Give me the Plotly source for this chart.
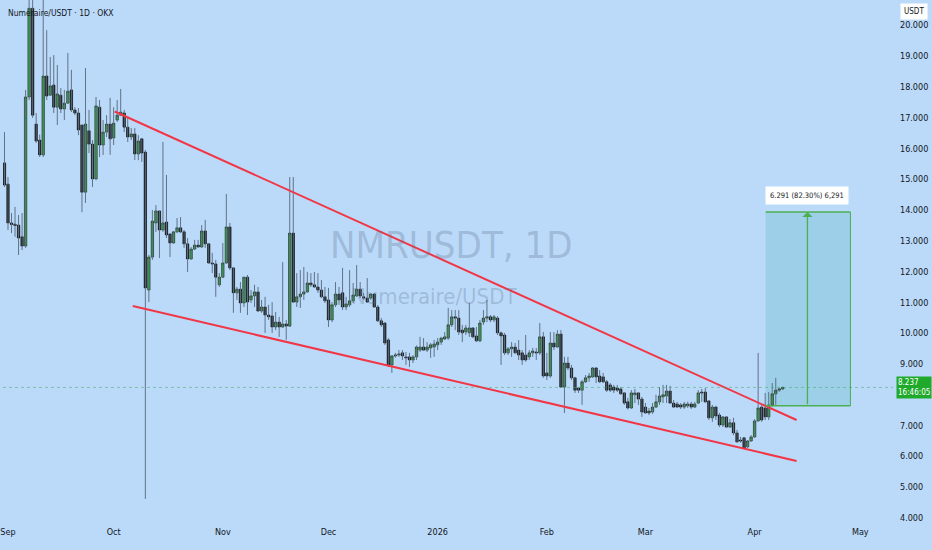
import pandas as pd
import numpy as np
import plotly.graph_objects as go

# ---------------- data (NMR/USDT daily) ----------------
start_date = "2025-08-31"

opens = [15.53, 14.84, 13.58, 13.54, 13.51, 13.13, 12.83, 17.67, 20.55, 16.79,
         16.27, 15.79, 18.35, 17.73, 18.06, 17.34, 17.73, 17.28, 17.47, 17.90,
         17.25, 17.15, 16.76, 14.58, 16.57, 16.14, 15.01, 17.34, 16.11, 16.53,
         16.79, 16.34, 16.92, 17.08, 17.15, 16.69, 16.37, 16.47, 15.82, 16.31,
         15.88, 11.40, 12.47, 13.58, 13.97, 13.35, 13.61, 13.22, 12.93, 13.29,
         13.42, 13.29, 12.90, 12.41, 12.73, 12.86, 12.80, 13.32, 12.90, 12.28,
         12.25, 11.57, 11.82, 12.28, 13.45, 12.12, 11.31, 11.43, 10.98, 11.82,
         11.08, 11.21, 11.34, 10.72, 10.85, 10.59, 10.56, 10.20, 10.36, 10.20,
         10.30, 10.23, 13.25, 11.01, 11.18, 11.27, 11.34, 11.63, 11.57, 11.50,
         11.40, 11.18, 11.08, 10.43, 10.92, 11.27, 11.31, 10.85, 10.92, 11.05,
         11.21, 11.43, 11.18, 11.14, 11.14, 11.27, 10.85, 10.40, 10.33, 9.78,
         8.97, 9.26, 9.29, 9.36, 9.23, 9.23, 9.13, 9.23, 9.45, 9.55,
         9.45, 9.52, 9.55, 9.62, 9.71, 9.81, 9.84, 10.27, 10.53, 10.49,
         10.10, 10.04, 10.01, 10.17, 9.91, 9.75, 10.36, 10.49, 10.53, 10.43,
         10.49, 10.01, 9.94, 9.36, 9.49, 9.55, 9.45, 9.36, 9.29, 9.23,
         9.36, 9.39, 9.36, 9.88, 8.71, 8.61, 9.68, 9.55, 9.97, 8.25,
         9.03, 8.87, 8.55, 8.22, 8.15, 8.42, 8.55, 8.58, 8.87, 8.61,
         8.58, 8.42, 8.32, 8.25, 8.22, 8.19, 8.06, 7.77, 7.57, 8.00,
         8.06, 7.86, 7.60, 7.47, 7.44, 7.60, 7.77, 7.93, 7.96, 8.12,
         7.73, 7.70, 7.67, 7.60, 7.64, 7.70, 7.60, 7.73, 8.09, 8.09,
         7.80, 7.25, 7.60, 7.34, 7.02, 7.28, 6.95, 7.09, 6.76, 6.53,
         6.60, 6.31, 6.50, 6.63, 7.15, 7.60, 7.57, 7.28, 7.67, 8.03,
         8.15, 8.19]

highs = [16.53, 15.07, 13.90, 14.10, 13.84, 13.90, 17.90, 21.10, 21.30, 17.15,
         16.45, 20.85, 19.84, 18.97, 19.03, 18.71, 17.96, 17.90, 19.10, 18.55,
         17.34, 17.31, 16.76, 18.61, 17.25, 16.27, 17.67, 17.57, 16.92, 17.08,
         17.64, 17.34, 17.57, 17.93, 17.25, 17.02, 16.66, 16.66, 16.43, 16.34,
         15.95, 12.54, 14.00, 14.16, 13.97, 16.21, 15.14, 13.25, 13.32, 13.74,
         13.77, 13.35, 13.09, 12.80, 13.03, 13.03, 13.51, 13.68, 12.93, 12.61,
         12.38, 11.95, 12.93, 14.52, 13.58, 12.15, 11.50, 11.66, 11.82, 11.89,
         11.40, 11.57, 11.50, 11.08, 11.18, 10.92, 11.01, 10.69, 10.53, 12.31,
         10.43, 15.07, 15.07, 11.95, 12.05, 12.15, 11.99, 11.95, 11.99, 11.95,
         11.73, 11.50, 11.47, 11.01, 11.66, 11.50, 12.12, 11.18, 12.05, 11.63,
         12.21, 11.66, 11.31, 11.79, 11.31, 11.31, 10.92, 10.49, 10.36, 9.84,
         9.29, 9.36, 9.45, 9.45, 9.39, 9.36, 9.29, 9.60, 9.88, 9.84,
         9.71, 9.68, 9.78, 9.84, 9.88, 10.04, 10.82, 10.75, 10.75, 10.75,
         10.27, 10.27, 10.98, 10.20, 10.20, 10.43, 10.75, 11.08, 10.59, 10.59,
         10.55, 10.05, 10.01, 9.55, 9.71, 9.68, 9.78, 9.45, 9.94, 9.45,
         9.52, 9.52, 10.33, 10.04, 9.36, 10.04, 10.04, 10.10, 10.10, 9.23,
         9.23, 8.97, 8.58, 8.25, 8.48, 8.64, 8.71, 8.90, 8.90, 8.80,
         8.71, 8.48, 8.38, 8.32, 8.32, 8.25, 8.09, 7.90, 8.15, 8.19,
         8.09, 7.93, 7.73, 7.57, 7.73, 8.00, 8.25, 8.32, 8.32, 8.29,
         7.83, 7.77, 7.73, 7.77, 7.77, 7.77, 7.77, 8.15, 8.19, 8.22,
         7.83, 7.67, 7.64, 7.41, 7.31, 7.31, 7.21, 7.25, 6.86, 6.63,
         6.63, 6.53, 6.69, 7.21, 9.36, 7.67, 8.06, 8.09, 8.38, 8.55,
         8.22, 8.26]

lows = [14.75, 13.35, 13.25, 13.13, 12.54, 12.70, 12.77, 17.57, 16.99, 16.18,
        15.72, 15.72, 17.57, 17.70, 17.15, 16.76, 17.15, 16.92, 17.47, 17.18,
        17.08, 16.43, 13.93, 14.23, 15.85, 14.75, 14.97, 15.72, 15.79, 16.37,
        15.79, 16.11, 16.86, 17.05, 16.53, 16.21, 16.27, 15.62, 15.62, 15.56,
        4.62, 11.01, 12.38, 13.29, 12.44, 13.29, 13.09, 12.47, 12.90, 13.25,
        13.25, 12.77, 11.99, 12.38, 12.70, 12.77, 12.77, 12.77, 12.25, 11.95,
        11.18, 11.50, 11.79, 12.25, 12.05, 10.66, 11.08, 10.66, 10.85, 10.59,
        10.98, 10.85, 10.69, 10.66, 10.01, 10.43, 10.01, 10.10, 9.88, 10.17,
        9.78, 10.20, 10.98, 10.85, 10.82, 11.08, 11.31, 11.50, 11.47, 11.31,
        11.14, 10.98, 10.20, 10.36, 10.85, 10.92, 10.75, 10.75, 10.85, 10.98,
        11.18, 11.14, 11.08, 10.98, 11.08, 10.82, 10.36, 10.20, 9.62, 8.90,
        8.71, 9.20, 9.23, 9.13, 8.97, 8.90, 9.03, 9.13, 9.39, 9.42,
        9.39, 9.20, 9.23, 9.45, 9.62, 9.78, 9.78, 10.20, 10.10, 9.94,
        9.71, 9.94, 9.88, 9.84, 9.71, 9.71, 10.27, 10.36, 10.36, 10.36,
        9.94, 8.97, 9.29, 9.29, 9.23, 9.33, 9.13, 8.97, 9.07, 9.13,
        9.23, 9.13, 9.29, 8.55, 8.48, 8.55, 9.45, 9.52, 8.22, 7.41,
        8.80, 8.48, 8.06, 8.06, 7.67, 8.38, 8.42, 8.55, 8.38, 8.38,
        8.38, 8.09, 8.09, 8.06, 8.09, 8.00, 7.67, 7.52, 7.54, 7.73,
        7.67, 7.28, 7.38, 7.34, 7.38, 7.57, 7.67, 7.73, 7.73, 7.70,
        7.57, 7.57, 7.54, 7.54, 7.57, 7.54, 7.57, 7.70, 7.77, 7.73,
        7.18, 7.12, 7.18, 6.95, 6.95, 6.92, 6.92, 6.69, 6.44, 6.44,
        6.24, 6.27, 6.47, 6.60, 7.12, 7.12, 7.18, 7.18, 7.60, 7.67,
        8.09, 8.15]

closes = [14.81, 13.58, 13.53, 13.50, 13.09, 12.83, 17.67, 20.55, 17.08, 16.24,
          15.79, 18.35, 17.70, 18.03, 17.34, 17.77, 17.28, 17.47, 17.86, 17.25,
          17.15, 16.60, 14.58, 16.79, 16.14, 15.01, 17.38, 16.11, 16.53, 16.79,
          16.31, 16.82, 17.08, 17.18, 16.69, 16.37, 16.47, 15.82, 16.24, 15.85,
          11.47, 12.47, 13.64, 13.97, 13.35, 13.58, 13.19, 12.93, 13.29, 13.42,
          13.29, 12.90, 12.41, 12.73, 12.86, 12.80, 13.32, 12.90, 12.28, 12.25,
          11.82, 11.82, 12.28, 13.45, 12.12, 11.31, 11.43, 10.98, 11.82, 11.01,
          11.21, 11.34, 10.72, 10.85, 10.59, 10.53, 10.20, 10.36, 10.20, 10.30,
          10.23, 13.25, 11.01, 11.18, 11.27, 11.34, 11.63, 11.57, 11.50, 11.40,
          11.18, 11.05, 10.43, 10.92, 11.27, 11.08, 10.85, 10.95, 11.05, 11.24,
          11.43, 11.21, 11.14, 11.01, 11.27, 10.85, 10.40, 10.27, 9.68, 8.97,
          9.26, 9.29, 9.32, 9.26, 9.20, 9.13, 9.23, 9.55, 9.55, 9.45,
          9.55, 9.62, 9.65, 9.71, 9.84, 9.88, 10.27, 10.53, 10.49, 10.04,
          10.01, 10.17, 10.17, 9.88, 9.75, 10.33, 10.49, 10.53, 10.43, 10.53,
          10.01, 9.91, 9.36, 9.49, 9.55, 9.36, 9.29, 9.13, 9.13, 9.36,
          9.42, 9.36, 9.88, 8.61, 8.61, 9.68, 9.55, 9.97, 8.25, 9.03,
          8.87, 8.55, 8.15, 8.15, 8.42, 8.55, 8.61, 8.87, 8.58, 8.42,
          8.42, 8.15, 8.15, 8.15, 8.15, 8.03, 7.73, 7.57, 8.06, 8.06,
          7.86, 7.44, 7.41, 7.41, 7.60, 7.77, 7.96, 8.00, 8.12, 7.73,
          7.60, 7.60, 7.60, 7.70, 7.70, 7.60, 7.70, 8.06, 8.06, 7.77,
          7.25, 7.60, 7.31, 7.02, 7.28, 6.95, 7.09, 6.76, 6.47, 6.50,
          6.27, 6.50, 6.63, 7.15, 7.57, 7.18, 7.28, 7.67, 8.03, 8.15,
          8.19, 8.237]

# falling wedge trend lines
upper_line_dates = ["2025-10-01 07:00", "2026-04-12 22:00"]
upper_line_prices = [17.20, 7.18]
lower_line_dates = ["2025-10-06 10:00", "2026-04-12 22:00"]
lower_line_prices = [10.88, 5.85]

# price range tool
range_dates = ["2026-04-04 03:00", "2026-04-28 05:00"]
range_arrow_date = "2026-04-16 00:00"
range_low = 7.644
range_high = 13.935
range_label = "6.291 (82.30%) 6,291"

last_price = 8.237
last_price_text = "8.237<br>16:46:05"

month_ticks = ["2025-09-01", "2025-10-01", "2025-11-01", "2025-12-01", "2026-01-01",
               "2026-02-01", "2026-03-01", "2026-04-01", "2026-05-01"]
month_labels = ["Sep", "Oct", "Nov", "Dec", "2026", "Feb", "Mar", "Apr", "May"]
# 8.000 is hidden behind the last-price label in the reference
price_ticks = [4, 5, 6, 7, 9, 10, 11, 12, 13, 14, 15, 16, 17, 18, 19, 20]
price_labels = [f"{v:.3f}" for v in price_ticks]

x_range = ["2025-08-30 14:00", "2026-05-10 07:00"]
y_range = [3.77, 20.82]

# ---------------- figure ----------------
dates = pd.date_range(start_date, periods=len(opens), freq="D")
o = np.array(opens); c = np.array(closes)
body_top = np.maximum(o, c)
body_bot = np.minimum(o, c)

BG = "#bbdafa"
FONT = "DejaVu Sans Condensed, Liberation Sans Narrow, Liberation Sans, sans-serif"
TXT = "#131722"
GREEN_LINE = "#4caf50"

fig = go.Figure()

# wicks
wx, wy = [], []
for d, h, l in zip(dates, highs, lows):
    wx += [d, d, None]
    wy += [l, h, None]
fig.add_trace(go.Scatter(x=wx, y=wy, mode="lines", line=dict(color="#5f7286", width=1),
                         hoverinfo="skip", showlegend=False))

# bodies
fig.add_trace(go.Candlestick(
    x=dates, open=o, high=body_top, low=body_bot, close=c,
    increasing=dict(fillcolor="#1db526", line=dict(color="#1a1a1a", width=0.6)),
    decreasing=dict(fillcolor="#0c0c0c", line=dict(color="#0c0c0c", width=0.6)),
    whiskerwidth=0, showlegend=False))

# wedge lines
fig.add_trace(go.Scatter(x=upper_line_dates, y=upper_line_prices, mode="lines",
                         line=dict(color="#f23645", width=2), showlegend=False))
fig.add_trace(go.Scatter(x=lower_line_dates, y=lower_line_prices, mode="lines",
                         line=dict(color="#f23645", width=2), showlegend=False))

# price range box
fig.add_shape(type="rect", xref="x", yref="y", x0=range_dates[0], x1=range_dates[1],
              y0=range_low, y1=range_high, fillcolor="rgba(80,180,190,0.28)",
              line=dict(width=0), layer="below")
for yv in (range_low, range_high):
    fig.add_shape(type="line", xref="x", yref="y", x0=range_dates[0], x1=range_dates[1],
                  y0=yv, y1=yv, line=dict(color=GREEN_LINE, width=1.5))
fig.add_shape(type="line", xref="x", yref="y", x0=range_dates[1], x1=range_dates[1],
              y0=range_low, y1=range_high, line=dict(color=GREEN_LINE, width=1))
fig.add_annotation(x=range_arrow_date, y=range_high, ax=range_arrow_date, ay=range_low,
                   xref="x", yref="y", axref="x", ayref="y", text="", showarrow=True,
                   arrowhead=1, arrowsize=1.3, arrowwidth=1.3, arrowcolor=GREEN_LINE)
fig.add_annotation(x=range_arrow_date, y=range_high, xref="x", yref="y", text=range_label,
                   showarrow=False, yshift=17, bgcolor="white", borderpad=4,
                   font=dict(family=FONT, size=7.5, color=TXT))

# last price line
fig.add_shape(type="line", xref="paper", yref="y", x0=0, x1=1, y0=last_price, y1=last_price,
              line=dict(color="rgba(60,170,90,0.5)", width=1, dash="dot"))

# watermark
fig.add_annotation(xref="paper", yref="paper", x=0.504, y=0.533, text="NMRUSDT, 1D",
                   showarrow=False, font=dict(family=FONT, size=38, color="rgba(90,110,135,0.3)"))
fig.add_annotation(xref="paper", yref="paper", x=0.484, y=0.436, text="Numeraire/USDT",
                   showarrow=False, font=dict(family=FONT, size=22, color="rgba(90,110,135,0.3)"))

# title
fig.add_annotation(xref="paper", yref="paper", x=0, y=1, xanchor="left", yanchor="top",
                   xshift=3, yshift=-6, text="Numeraire/USDT · 1D · OKX", showarrow=False,
                   font=dict(family=FONT, size=8.5, color=TXT))

# right axis labels
fig.add_annotation(xref="paper", yref="y", x=1, y=last_price, xanchor="left", xshift=3,
                   text=last_price_text, showarrow=False, align="left", bgcolor="#1faa2c",
                   borderpad=1, font=dict(family=FONT, size=8, color="white"))
fig.add_annotation(xref="paper", yref="paper", x=1, y=1, xanchor="left", yanchor="top",
                   xshift=7, yshift=-3, text="USDT", showarrow=False, bgcolor="white",
                   borderpad=3, font=dict(family=FONT, size=8, color=TXT))

fig.update_layout(
    width=932, height=550, margin=dict(l=0, r=39, t=0, b=25),
    paper_bgcolor=BG, plot_bgcolor=BG, showlegend=False,
    boxgap=0.2, boxgroupgap=0.15,
    font=dict(family=FONT, color=TXT),
    xaxis=dict(type="date", range=x_range, tickvals=month_ticks, ticktext=month_labels,
               showgrid=False, zeroline=False, showline=False, ticks="",
               ticklabeloverflow="allow",
               rangeslider=dict(visible=False), tickfont=dict(size=9, color=TXT)),
    yaxis=dict(side="right", range=y_range, tickvals=price_ticks, ticktext=price_labels,
               showgrid=False, zeroline=False, showline=False, ticks="",
               ticklabelstandoff=6, tickfont=dict(size=9, color=TXT)),
)

fig.write_html("out.html", config={"displayModeBar": False},
               post_script="document.body.style.margin='0';document.body.style.overflow='hidden';")
